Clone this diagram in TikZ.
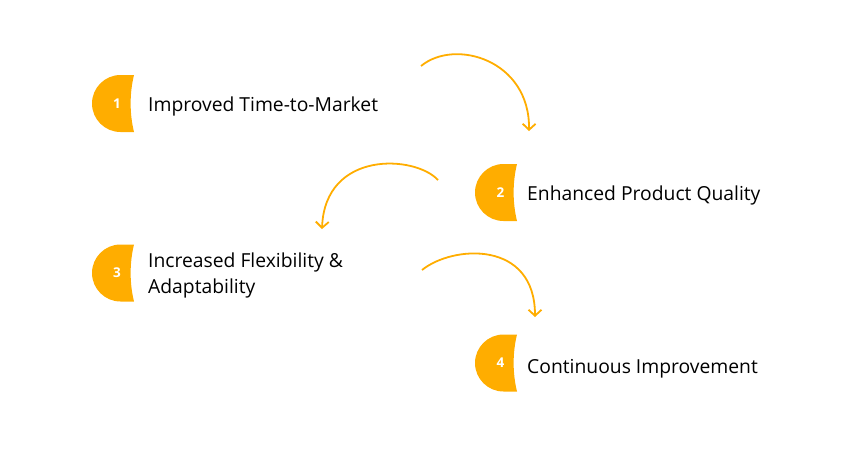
\documentclass[tikz,border=0pt]{standalone}
\usepackage{fontspec}
\setmainfont{Open Sans}
\usetikzlibrary{arrows.meta}
\definecolor{badgecol}{RGB}{255,173,0}
\definecolor{txtcol}{RGB}{0,0,0}
\tikzset{
  badgeshape/.pic={\fill[badgecol] (0,28.5) .. controls (-15.7,28.5) and (-28.5,15.7) .. (-28.5,0) .. controls (-28.5,-15.7) and (-15.7,-28.5) .. (0,-28.5) -- (13.5,-28.5) .. controls (9,-10) and (9,10) .. (13.5,28.5) -- cycle;},
  num/.style={text=white, font=\fontsize{13.5}{15}\selectfont\bfseries, inner sep=0pt},
  label/.style={text=txtcol, anchor=west, inner sep=0pt, align=left, font=\fontsize{19.3}{26}\selectfont},
  flow/.style={draw=badgecol, line width=1.8pt, -{Straight Barb[length=6pt,width=13pt,line width=1.8pt]}}
}
\begin{document}
\begin{tikzpicture}[x=1pt,y=-1pt]
\useasboundingbox (0,0) rectangle (860,456);
% badges
\pic at (120.5,103.5) {badgeshape};
\pic at (503.5,192.5) {badgeshape};
\pic at (120.5,273) {badgeshape};
\pic at (503.5,363) {badgeshape};
\node[num] (n1) at (117,104) {1};
\node[num] (n2) at (500.5,193) {2};
\node[num] (n3) at (117,273) {3};
\node[num] (n4) at (500.5,363) {4};
% labels
\node[label] (t1) at (148,106.5) {Improved Time-to-Market};
\node[label] (t2) at (527,195.5) {Enhanced Product Quality};
\node[label] (t3) at (148,275.5) {Increased Flexibility \&\\Adaptability};
\node[label] (t4) at (527,368.5) {Continuous Improvement};
% arrows
\coordinate (a1s) at (421,66);
\coordinate (a1e) at (529,131);
\coordinate (a2s) at (438,180);
\coordinate (a2e) at (322,229);
\coordinate (a3s) at (422,270);
\coordinate (a3e) at (535,317);
\draw[flow] (a1s) .. controls (455,38) and (530,60) .. (a1e);
\draw[flow] (a2s) .. controls (415,155) and (325,150) .. (a2e);
\draw[flow] (a3s) .. controls (453,245) and (535,240) .. (a3e);
\end{tikzpicture}
\end{document}
